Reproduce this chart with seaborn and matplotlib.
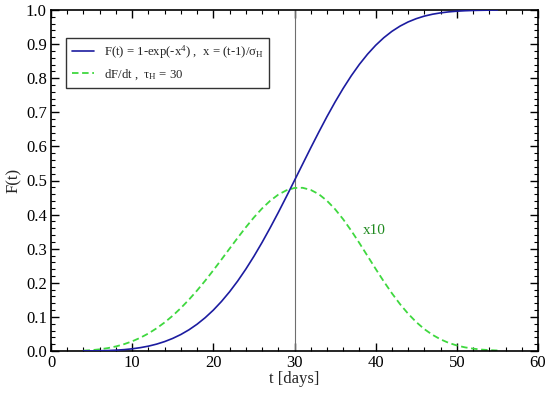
import numpy as np
import pandas as pd
import matplotlib
matplotlib.use("Agg")
import matplotlib.pyplot as plt
from matplotlib.ticker import MultipleLocator
import seaborn as sns

# ---- data ----
t_days = list(range(4, 56))
F_values = [0.0001, 0.0003, 0.0006, 0.0013, 0.0024, 0.0040, 0.0064, 0.0098, 0.0142, 0.0201,
            0.0276, 0.0370, 0.0484, 0.0622, 0.0786, 0.0978, 0.1199, 0.1452, 0.1736, 0.2052,
            0.2400, 0.2777, 0.3182, 0.3612, 0.4061, 0.4527, 0.5002, 0.5480, 0.5957, 0.6422,
            0.6874, 0.7302, 0.7703, 0.8073, 0.8408, 0.8705, 0.8965, 0.9187, 0.9374, 0.9527,
            0.9650, 0.9746, 0.9821, 0.9876, 0.9916, 0.9945, 0.9965, 0.9978, 0.9987, 0.9992,
            0.9996, 0.9998]
dFdt_x10 = [0.0011, 0.0025, 0.0049, 0.0085, 0.0134, 0.0200, 0.0284, 0.0388, 0.0514, 0.0664,
            0.0838, 0.1036, 0.1260, 0.1507, 0.1775, 0.2063, 0.2367, 0.2682, 0.3002, 0.3319,
            0.3627, 0.3917, 0.4179, 0.4405, 0.4585, 0.4712, 0.4781, 0.4786, 0.4724, 0.4598,
            0.4406, 0.4159, 0.3862, 0.3526, 0.3163, 0.2786, 0.2408, 0.2040, 0.1693, 0.1375,
            0.1093, 0.0848, 0.0641, 0.0474, 0.0341, 0.0238, 0.0162, 0.0107, 0.0069, 0.0042,
            0.0026, 0.0015]
x_ticks = [0, 10, 20, 30, 40, 50, 60]
y_ticks = [0.0, 0.1, 0.2, 0.3, 0.4, 0.5, 0.6, 0.7, 0.8, 0.9, 1.0]
label_F = r"F(t) = 1-exp(-x$^{4}$) ,  x = (t-1)/$\mathrm{\sigma}_{\mathrm{H}}$"
label_dF = r"dF/dt ,  $\mathrm{\tau}_{\mathrm{H}}$ = 30"
vline_t = 30
annot_text = "x10"
annot_pos = (38.4, 0.352)

sns.set_theme(style="ticks")
plt.rcParams["font.family"] = ["Liberation Serif", "DejaVu Serif"]
plt.rcParams["mathtext.fontset"] = "custom"
plt.rcParams["mathtext.rm"] = "Liberation Serif"
plt.rcParams["mathtext.it"] = "Liberation Serif:italic"

blue = "#1c1ca0"
green = "#3fd83f"

df = pd.DataFrame({"t": t_days, "F": F_values, "G": dFdt_x10})

fig = plt.figure(figsize=(5.5, 3.94), dpi=100)
ax = fig.add_axes([51 / 550, 43 / 394, 487 / 550, 341 / 394])

ax.axvline(vline_t, color="#6e6e6e", lw=0.8, zorder=1)
sns.lineplot(data=df, x="t", y="F", ax=ax, color=blue, lw=1.2, label=label_F, zorder=3)
sns.lineplot(data=df, x="t", y="G", ax=ax, color=green, lw=1.3, label=label_dF, zorder=2)
ax.lines[-1].set_dashes((3.6, 2.0))

ax.text(annot_pos[0], annot_pos[1], annot_text, color="#1f8a1f", fontsize=11,
        va="center", ha="left")

ax.set_xlim(0, 60)
ax.set_ylim(0, 1)
ax.set_xticks(x_ticks)
ax.set_yticks(y_ticks)
ax.set_yticklabels([f"{v:.1f}" for v in y_ticks])
ax.xaxis.set_minor_locator(MultipleLocator(2))
ax.yaxis.set_minor_locator(MultipleLocator(0.02))
ax.tick_params(which="both", direction="in", top=True, right=True, colors="black",
               labelsize=12)
ax.tick_params(which="major", length=6, width=1.0, pad=3)
ax.tick_params(which="minor", length=3, width=0.8)
for s in ax.spines.values():
    s.set_visible(True)
    s.set_linewidth(1.2)
    s.set_color("black")

ax.set_xlabel("t [days]", fontsize=12, labelpad=0)
ax.set_ylabel("F(t)", fontsize=12, labelpad=3)

leg = ax.legend(loc="upper left", bbox_to_anchor=(0.031, 0.918), borderaxespad=0,
                fontsize=9.2, frameon=True, fancybox=False, edgecolor="#333333",
                framealpha=1, handlelength=1.7, handletextpad=0.8, borderpad=0.45,
                labelspacing=0.5)
leg.get_frame().set_linewidth(1.0)

fig.savefig("out.png", dpi=100)
